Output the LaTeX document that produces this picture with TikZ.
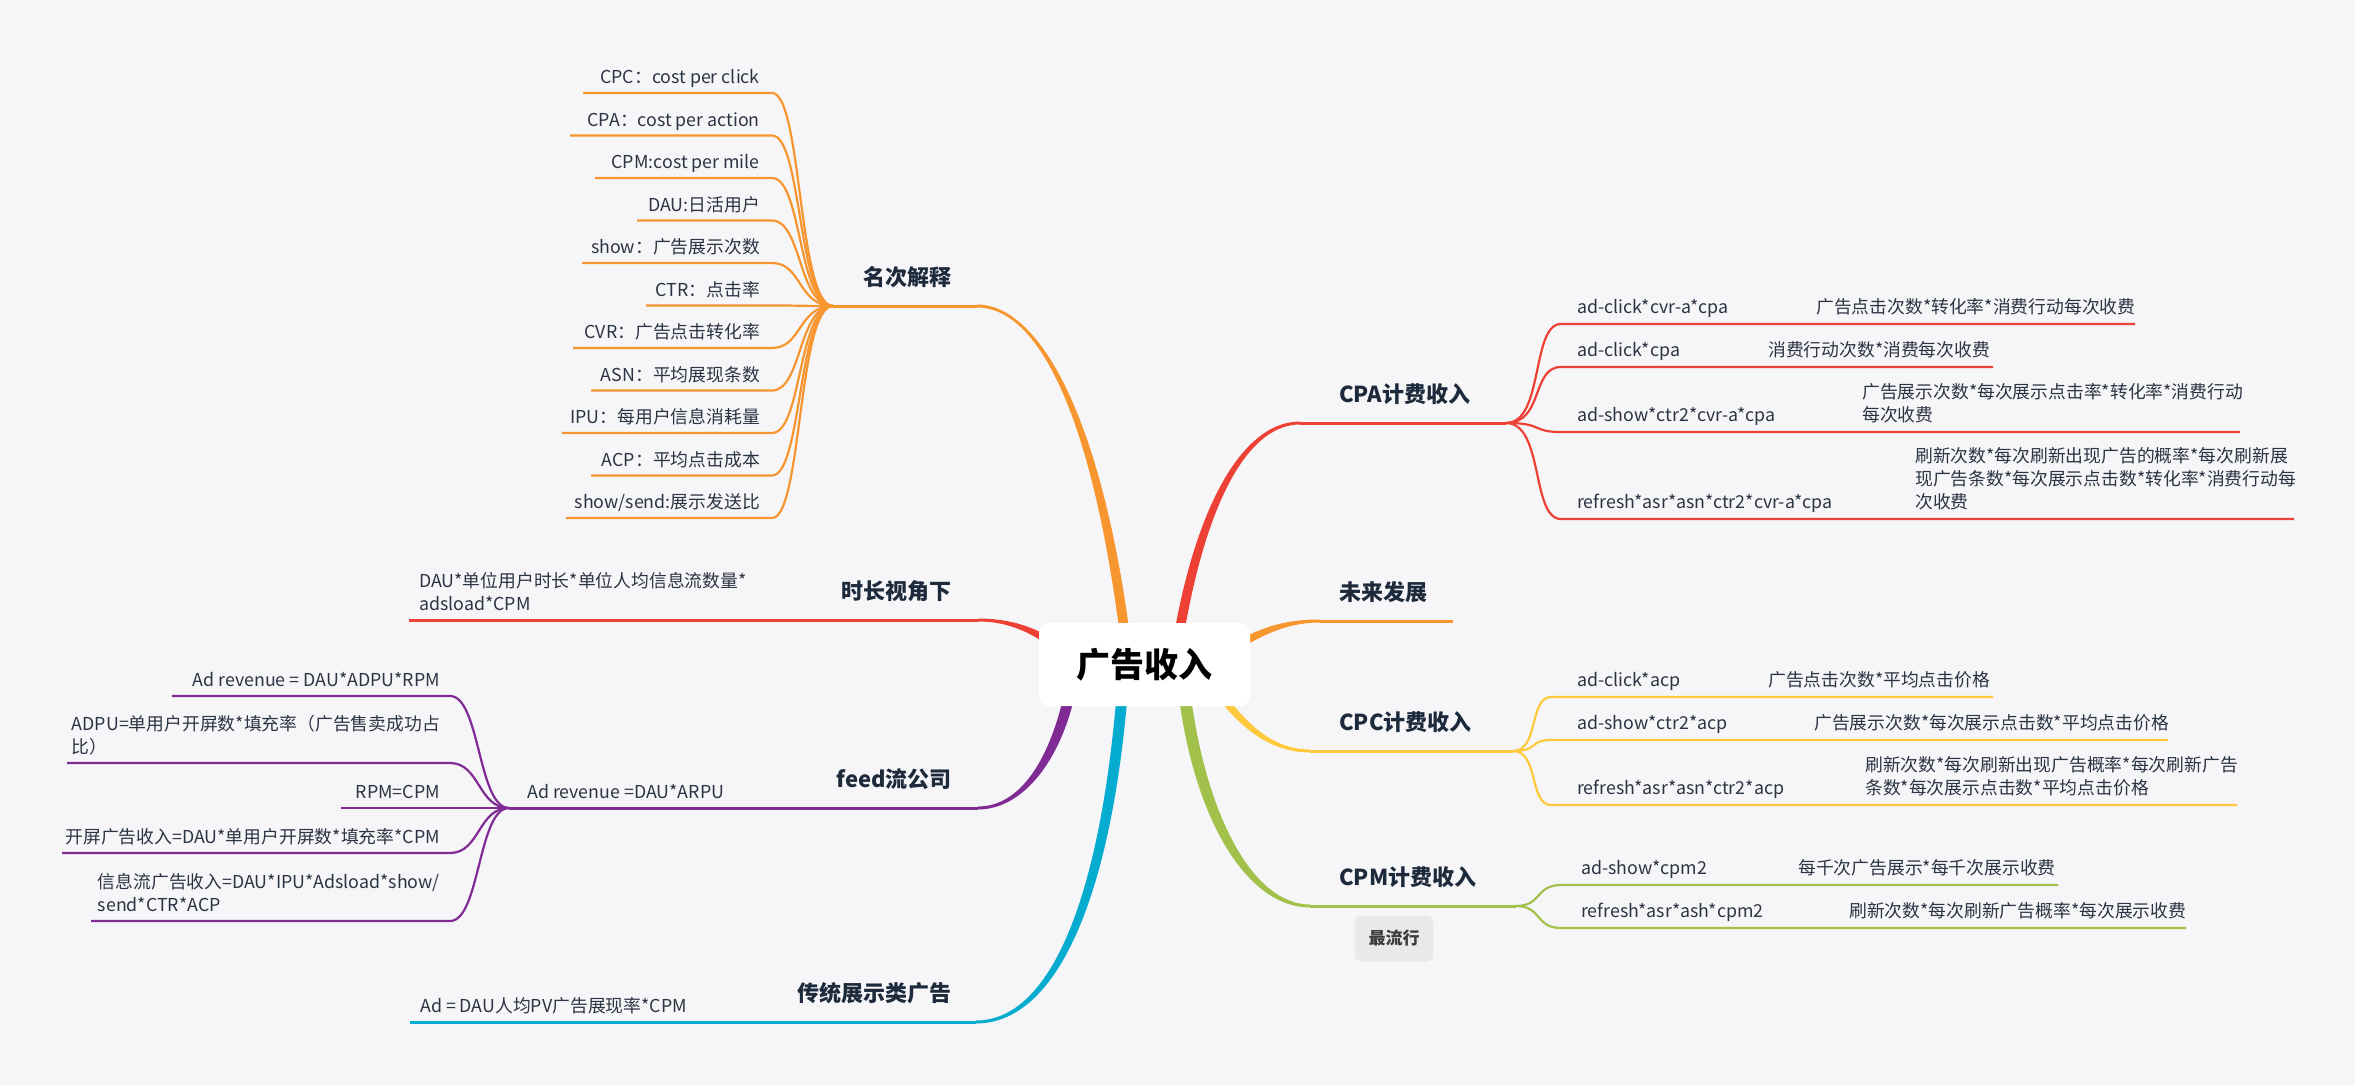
\documentclass[tikz,border=0pt]{standalone}
\usepackage{fontspec}
\setmainfont{Noto Sans CJK SC}
\definecolor{bg}{HTML}{F6F6F9}
\definecolor{cOr}{HTML}{F7962F}
\definecolor{cRd}{HTML}{EE4136}
\definecolor{cPu}{HTML}{802B94}
\definecolor{cCy}{HTML}{06ACD0}
\definecolor{cGr}{HTML}{A2C14A}
\definecolor{cYe}{HTML}{FFC93C}
\definecolor{ttl}{HTML}{1D2A3B}
\definecolor{lfc}{HTML}{2B3442}
\definecolor{tagbg}{HTML}{E9E9EB}
\definecolor{tagtx}{HTML}{3C3C3C}
\tikzset{
  leaf/.style={font=\fontsize{17.8}{23}\selectfont, text=lfc, inner sep=0pt, align=left, execute at end node=\strut},
  ttlnode/.style={font=\fontsize{22}{26}\selectfont\bfseries, text=ttl, inner sep=0pt},
  brline/.style={line width=3pt},
  lfline/.style={line width=2.2pt},
}
\begin{document}
\begin{tikzpicture}[x=1pt,y=-1pt]
\fill[bg] (0,0) rectangle (2355,1086);
\useasboundingbox (0,0) rectangle (2355,1086);

% ---------- tapered main branches ----------
% 名次解释 (orange, up-left)
\fill[cOr] (1133,660) .. controls (1105,420) and (1040,304.5) .. (977,304.5) -- (977,307.5) .. controls (1040,307.5) and (1095,420) .. (1123,660) -- cycle;
% 时长视角下 (red, left)
\fill[cRd] (978,618.5) .. controls (1010,618.5) and (1037.4,626.8) .. (1064.4,646.8) -- (1059.6,653.2) .. controls (1032.6,633.2) and (1010,621.5) .. (978,621.5) -- cycle;
% feed流公司 (purple)
\fill[cPu] (1065,690) .. controls (1050,760) and (1020,806.5) .. (978,806.5) -- (978,809.5) .. controls (1022,809.5) and (1061,762) .. (1076,690) -- cycle;
% 传统展示类广告 (cyan)
\fill[cCy] (1117,690) .. controls (1100,900) and (1050,1020.5) .. (976,1020.5) -- (976,1023.5) .. controls (1056,1023.5) and (1111,900) .. (1128,690) -- cycle;
% CPA计费收入 (red, up-right)
\fill[cRd] (1170,660) .. controls (1190,520) and (1238,421.5) .. (1300,421.5) -- (1300,424.5) .. controls (1242,424.5) and (1200,520) .. (1180,660) -- cycle;
% 未来发展 (orange, right)
\fill[cOr] (1227.9,646.6) .. controls (1262.9,624.6) and (1290,619.5) .. (1320,619.5) -- (1320,622.5) .. controls (1292,622.5) and (1267.1,631.4) .. (1232.1,653.4) -- cycle;
% CPC计费收入 (yellow)
\fill[cYe] (1206.7,682.2) .. controls (1236.7,727.2) and (1270,752.5) .. (1310,752.5) -- (1310,749.5) .. controls (1272,749.5) and (1243.3,722.8) .. (1213.3,677.8) -- cycle;
% CPM计费收入 (green)
\fill[cGr] (1178,690) .. controls (1194,822) and (1248,907.5) .. (1310,907.5) -- (1310,904.5) .. controls (1254,904.5) and (1206,818) .. (1190,690) -- cycle;

% ---------- root ----------
\node[fill=white, rounded corners=10pt, minimum width=211pt, minimum height=83pt, inner sep=0pt,
      font=\fontsize{34}{40}\selectfont\bfseries, text=black] (root) at (1144.5,664.5) {广告收入};

% ---------- branch lines and titles ----------
\coordinate (eA) at (977,306);  \coordinate (hA) at (833,306);
\coordinate (eT) at (978,620);  \coordinate (hT) at (409,620);
\coordinate (eF) at (978,808);  \coordinate (hF) at (509,808);
\coordinate (eC) at (976,1022); \coordinate (hC) at (410,1022);
\coordinate (eB) at (1300,423); \coordinate (hB) at (1506,423);
\coordinate (eW) at (1320,621); \coordinate (hW) at (1453,621);
\coordinate (eY) at (1310,751); \coordinate (hY) at (1513,751);
\coordinate (eG) at (1310,906); \coordinate (hG) at (1516,906);

\draw[brline,cOr] (eA) -- (hA);
\draw[brline,cRd] (eT) -- (hT);
\draw[brline,cPu] (eF) -- (hF);
\draw[brline,cCy] (eC) -- (hC);
\draw[brline,cRd] (eB) -- (hB);
\draw[brline,cOr] (eW) -- (hW);
\draw[brline,cYe] (eY) -- (hY);
\draw[brline,cGr] (eG) -- (hG);

\node[ttlnode,anchor=east] (tA) at (952,277.5) {名次解释};
\node[ttlnode,anchor=east] (tT) at (952,591.5) {时长视角下};
\node[ttlnode,anchor=east] (tF) at (952,779.5) {feed流公司};
\node[ttlnode,anchor=east] (tC) at (952,993.5) {传统展示类广告};
\node[ttlnode,anchor=west] (tB) at (1339,394.5) {CPA计费收入};
\node[ttlnode,anchor=west] (tW) at (1339,592.5) {未来发展};
\node[ttlnode,anchor=west] (tY) at (1339,722.5) {CPC计费收入};
\node[ttlnode,anchor=west] (tG) at (1339,877.5) {CPM计费收入};

\node[fill=tagbg, rounded corners=6pt, minimum width=78pt, minimum height=46pt, inner sep=0pt,
      font=\fontsize{17}{20}\selectfont\bfseries, text=tagtx] (tag) at (1394,938.5) {最流行};

% ---------- 名次解释 leaves ----------
\foreach \yy/\xl/\lbl [count=\i] in {
  93/583/{CPC：cost per click},
  135.5/570/{CPA：cost per action},
  178/595/{CPM:cost per mile},
  220.5/637/{DAU:日活用户},
  263/582/{show：广告展示次数},
  305.5/646/{CTR：点击率},
  348/573/{CVR：广告点击转化率},
  390.5/591/{ASN：平均展现条数},
  433/562/{IPU：每用户信息消耗量},
  475.5/591/{ACP：平均点击成本},
  518/566/{show/send:展示发送比}}{
  \coordinate (a\i) at (772,\yy);
  \coordinate (aL\i) at (\xl,\yy);
  \draw[lfline,cOr] (hA) .. controls +(-35,0) and +(30,0) .. (a\i) -- (aL\i);
  \node[leaf,anchor=south east] (at\i) at (760,\yy-2) {\lbl};
}

% ---------- 时长视角下 leaf ----------
\node[leaf,anchor=south west] (tl1) at (419,618) {DAU*单位用户时长*单位人均信息流数量*\\adsload*CPM};

% ---------- feed leaves ----------
\node[leaf,anchor=south west] (fl1) at (527,806) {Ad revenue =DAU*ARPU};
\foreach \yy/\xl/\lbl [count=\i] in {
  696/172/{Ad revenue = DAU*ADPU*RPM},
  763/67/{ADPU=单用户开屏数*填充率（广告售卖成功占\\比）},
  808/341/{RPM=CPM},
  853/62/{开屏广告收入=DAU*单用户开屏数*填充率*CPM},
  921/91/{信息流广告收入=DAU*IPU*Adsload*show/\\send*CTR*ACP}}{
  \coordinate (f\i) at (450,\yy);
  \coordinate (fL\i) at (\xl,\yy);
  \draw[lfline,cPu] (hF) .. controls +(-31,0) and +(30,0) .. (f\i) -- (fL\i);
  \node[leaf,anchor=south east] (ft\i) at (440,\yy-2) {\lbl};
}

% ---------- 传统展示类广告 leaf ----------
\node[leaf,anchor=south west] (cl1) at (420,1020) {Ad = DAU人均PV广告展现率*CPM};

% ---------- CPA leaves ----------
\foreach \yy/\xe/\lf/\sx/\sub [count=\i] in {
  324/2135/{ad-click*cvr-a*cpa}/1816/{广告点击次数*转化率*消费行动每次收费},
  367/1993/{ad-click*cpa}/1768/{消费行动次数*消费每次收费},
  432/2240/{ad-show*ctr2*cvr-a*cpa}/1862/{广告展示次数*每次展示点击率*转化率*消费行动\\每次收费},
  519/2294/{refresh*asr*asn*ctr2*cvr-a*cpa}/1915/{刷新次数*每次刷新出现广告的概率*每次刷新展\\现广告条数*每次展示点击数*转化率*消费行动每\\次收费}}{
  \coordinate (b\i) at (1561,\yy);
  \coordinate (bE\i) at (\xe,\yy);
  \draw[lfline,cRd] (hB) .. controls +(38,0) and +(-30,0) .. (b\i) -- (bE\i);
  \node[leaf,anchor=south west] (bt\i) at (1577,\yy-3) {\lf};
  \node[leaf,anchor=south west] (bs\i) at (\sx,\yy-3) {\sub};
}

% ---------- CPC leaves ----------
\foreach \yy/\xe/\lf/\sx/\sub [count=\i] in {
  697/1993/{ad-click*acp}/1768/{广告点击次数*平均点击价格},
  740/2168/{ad-show*ctr2*acp}/1814/{广告展示次数*每次展示点击数*平均点击价格},
  805/2237/{refresh*asr*asn*ctr2*acp}/1865/{刷新次数*每次刷新出现广告概率*每次刷新广告\\条数*每次展示点击数*平均点击价格}}{
  \coordinate (y\i) at (1551,\yy);
  \coordinate (yE\i) at (\xe,\yy);
  \draw[lfline,cYe] (hY) .. controls +(26,0) and +(-22,0) .. (y\i) -- (yE\i);
  \node[leaf,anchor=south west] (yt\i) at (1577,\yy-3) {\lf};
  \node[leaf,anchor=south west] (ys\i) at (\sx,\yy-3) {\sub};
}

% ---------- CPM leaves ----------
\foreach \yy/\xe/\lf/\sx/\sub [count=\i] in {
  885/2058/{ad-show*cpm2}/1798/{每千次广告展示*每千次展示收费},
  928/2186/{refresh*asr*ash*cpm2}/1849/{刷新次数*每次刷新广告概率*每次展示收费}}{
  \coordinate (g\i) at (1561,\yy);
  \coordinate (gE\i) at (\xe,\yy);
  \draw[lfline,cGr] (hG) .. controls +(26,0) and +(-26,0) .. (g\i) -- (gE\i);
  \node[leaf,anchor=south west] (gt\i) at (1581,\yy-3) {\lf};
  \node[leaf,anchor=south west] (gs\i) at (\sx,\yy-3) {\sub};
}
\end{tikzpicture}
\end{document}
